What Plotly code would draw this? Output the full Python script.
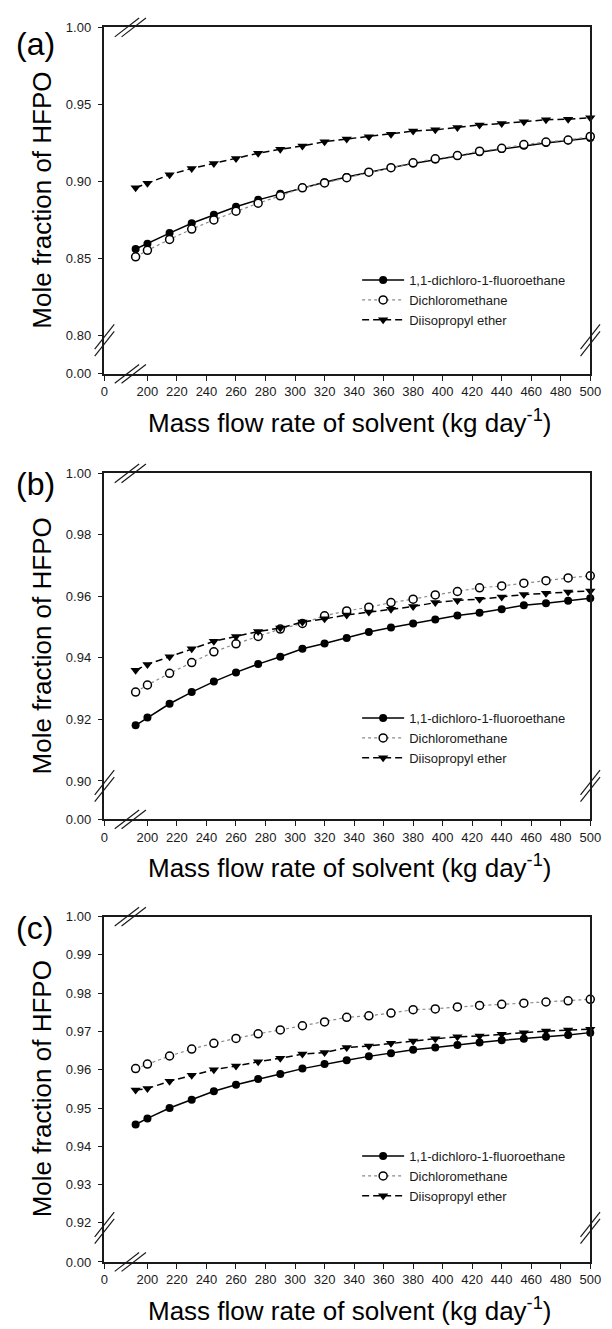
import plotly.graph_objects as go

W, H = 612, 1329

# ---------------- data ----------------
mass_flow = [192, 200, 215, 230, 245, 260, 275, 290, 305, 320, 335,
             350, 365, 380, 395, 410, 425, 440, 455, 470, 485, 500]

series_names = ["1,1-dichloro-1-fluoroethane", "Dichloromethane", "Diisopropyl ether"]

# panel (a)
a_dcfe = [0.8561, 0.8595, 0.8664, 0.8728, 0.8784, 0.8835, 0.8880, 0.8920, 0.8960, 0.8995, 0.9028,
          0.9060, 0.9088, 0.9117, 0.9143, 0.9166, 0.9190, 0.9210, 0.9232, 0.9250, 0.9266, 0.9282]
a_dcm = [0.8510, 0.8552, 0.8623, 0.8690, 0.8750, 0.8806, 0.8858, 0.8906, 0.8958, 0.8990, 0.9024,
         0.9060, 0.9089, 0.9121, 0.9147, 0.9168, 0.9196, 0.9215, 0.9239, 0.9256, 0.9269, 0.9292]
a_dipe = [0.8958, 0.8988, 0.9044, 0.9084, 0.9116, 0.9149, 0.9183, 0.9209, 0.9230, 0.9258, 0.9275,
          0.9290, 0.9307, 0.9327, 0.9335, 0.9350, 0.9367, 0.9376, 0.9387, 0.9400, 0.9404, 0.9414]

# panel (b)
b_dcfe = [0.9181, 0.9206, 0.9251, 0.9289, 0.9323, 0.9353, 0.9380, 0.9404, 0.9430, 0.9447, 0.9465,
          0.9484, 0.9499, 0.9512, 0.9525, 0.9538, 0.9547, 0.9558, 0.9571, 0.9578, 0.9586, 0.9594]
b_dcm = [0.9289, 0.9312, 0.9350, 0.9385, 0.9420, 0.9446, 0.9470, 0.9494, 0.9512, 0.9537, 0.9553,
         0.9565, 0.9580, 0.9591, 0.9605, 0.9616, 0.9628, 0.9634, 0.9643, 0.9651, 0.9660, 0.9667]
b_dipe = [0.9360, 0.9379, 0.9404, 0.9430, 0.9454, 0.9470, 0.9486, 0.9497, 0.9517, 0.9527, 0.9540,
          0.9549, 0.9558, 0.9567, 0.9580, 0.9587, 0.9591, 0.9598, 0.9606, 0.9610, 0.9614, 0.9618]

# panel (c)
c_dcfe = [0.9457, 0.9473, 0.9500, 0.9522, 0.9544, 0.9561, 0.9576, 0.9589, 0.9603, 0.9615, 0.9625,
          0.9635, 0.9643, 0.9652, 0.9658, 0.9665, 0.9671, 0.9677, 0.9681, 0.9686, 0.9691, 0.9697]
c_dcm = [0.9603, 0.9615, 0.9636, 0.9654, 0.9669, 0.9682, 0.9694, 0.9704, 0.9715, 0.9725, 0.9737,
         0.9741, 0.9748, 0.9757, 0.9759, 0.9764, 0.9768, 0.9771, 0.9774, 0.9777, 0.9780, 0.9784]
c_dipe = [0.9547, 0.9551, 0.9570, 0.9586, 0.9600, 0.9610, 0.9621, 0.9630, 0.9641, 0.9645, 0.9658,
          0.9662, 0.9669, 0.9675, 0.9681, 0.9686, 0.9688, 0.9693, 0.9697, 0.9701, 0.9704, 0.9706]

x_ticks = [200, 220, 240, 260, 280, 300, 320, 340, 360, 380, 400, 420, 440, 460, 480, 500]
x_axis_start = 170.9          # where the broken axis shows "0"
x_axis_end = 500

a_yticks = [0.80, 0.85, 0.90, 0.95, 1.00]
b_yticks = [0.90, 0.92, 0.94, 0.96, 0.98, 1.00]
c_yticks = [0.92, 0.93, 0.94, 0.95, 0.96, 0.97, 0.98, 0.99, 1.00]
a_ybottom, b_ybottom, c_ybottom = 0.775, 0.8875, 0.9098   # shown as "0.00" after break

panel_labels = ["(a)", "(b)", "(c)"]

# ---------------- layout geometry (pixels) ----------------
X_L, X_R = 103, 601
panel_px = [(20.7, 371.0), (471.7, 821.7), (920.0, 1269.3)]
label_cy = [37, 482, 932]
legend_top = [261, 704, 1147]

FONT = "Liberation Sans, Arial, sans-serif"
INK = "#1a1a1a"


def fx(px):
    return px / W


def fy(py):
    return 1 - py / H


panels = [
    (a_dcfe, a_dcm, a_dipe, a_yticks, a_ybottom),
    (b_dcfe, b_dcm, b_dipe, b_yticks, b_ybottom),
    (c_dcfe, c_dcm, c_dipe, c_yticks, c_ybottom),
]

fig = go.Figure()
shapes = []
annotations = []
layout_axes = {}

for i, (dcfe, dcm, dipe, yticks, ybot) in enumerate(panels):
    n = "" if i == 0 else str(i + 1)
    xa, ya = "x" + n, "y" + n
    leg = "legend" + n
    top, bot = panel_px[i]

    common = dict(xaxis=xa, yaxis=ya, legend=leg, mode="lines+markers", cliponaxis=False)
    fig.add_trace(go.Scatter(x=mass_flow, y=dcfe, name=series_names[0],
                             line=dict(color="black", width=1.5),
                             marker=dict(symbol="circle", size=8, color="black"), **common))
    fig.add_trace(go.Scatter(x=mass_flow, y=dcm, name=series_names[1],
                             line=dict(color="#8a8a8a", width=1.2, dash="dot"),
                             marker=dict(symbol="circle", size=8, color="white",
                                         line=dict(color="black", width=1.5)), **common))
    fig.add_trace(go.Scatter(x=mass_flow, y=dipe, name=series_names[2],
                             line=dict(color="black", width=1.5, dash="7px,4px"),
                             marker=dict(symbol="triangle-down", size=9, color="black"), **common))

    yvals = [ybot] + yticks
    ytext = ["0.00"] + ["%.2f" % v for v in yticks]
    xvals = [x_axis_start] + x_ticks
    xtext = ["0"] + [str(v) for v in x_ticks]

    layout_axes["xaxis" + n] = dict(
        domain=[fx(X_L), fx(X_R)], anchor=ya, range=[x_axis_start, x_axis_end],
        tickmode="array", tickvals=xvals, ticktext=xtext,
        showline=True, mirror=True, linecolor=INK, linewidth=1.5,
        ticks="outside", ticklen=5, tickwidth=1.2, tickcolor=INK,
        showgrid=False, zeroline=False,
        tickfont=dict(family=FONT, size=13, color=INK))
    layout_axes["yaxis" + n] = dict(
        domain=[fy(bot), fy(top)], anchor=xa, range=[ybot, 1.0],
        tickmode="array", tickvals=yvals, ticktext=ytext,
        showline=True, mirror=True, linecolor=INK, linewidth=1.5,
        ticks="outside", ticklen=5, tickwidth=1.2, tickcolor=INK,
        showgrid=False, zeroline=False, ticklabelstandoff=4,
        tickfont=dict(family=FONT, size=13, color=INK))

    layout_axes[leg] = dict(
        x=fx(362), y=fy(legend_top[i]), xanchor="left", yanchor="top",
        bgcolor="rgba(0,0,0,0)", font=dict(family=FONT, size=13, color=INK),
        itemwidth=42, tracegroupgap=0)

    # pixel position of the upper tick next to the y break
    def ypix(v, top=top, bot=bot, ybot=ybot):
        return bot - (v - ybot) / (1.0 - ybot) * (bot - top)

    brk_y = ypix(yticks[0]) + 5
    # break marks on left & right y axes
    for cx in (X_L, X_R):
        for off in (-3.5, 3.5):
            shapes.append(dict(type="line", xref="paper", yref="paper",
                               x0=fx(cx - 10), y0=fy(brk_y + 12.5 + off),
                               x1=fx(cx + 10), y1=fy(brk_y - 12.5 + off),
                               line=dict(color=INK, width=1.2)))
    # break marks on top & bottom x axes
    for cy in (top, bot):
        for off in (-3.5, 3.5):
            shapes.append(dict(type="line", xref="paper", yref="paper",
                               x0=fx(129.5 - 12.5 + off), y0=fy(cy + 9.5),
                               x1=fx(129.5 + 12.5 + off), y1=fy(cy - 9.5),
                               line=dict(color=INK, width=1.2)))

    annotations.append(dict(text=panel_labels[i], xref="paper", yref="paper",
                            x=fx(10), y=fy(label_cy[i]), xanchor="left", yanchor="middle",
                            showarrow=False, font=dict(family=FONT, size=32, color="black")))
    annotations.append(dict(text="Mole fraction of HFPO", xref="paper", yref="paper",
                            x=fx(39), y=fy((top + bot) / 2), xanchor="center", yanchor="middle",
                            textangle=-90, showarrow=False,
                            font=dict(family=FONT, size=26, color="black")))
    annotations.append(dict(text="Mass flow rate of solvent (kg day<sup>-1</sup>)",
                            xref="paper", yref="paper",
                            x=fx(354), y=fy(bot + 48), xanchor="center", yanchor="middle",
                            showarrow=False, font=dict(family=FONT, size=26, color="black")))

fig.update_layout(
    width=W, height=H, margin=dict(l=0, r=0, t=0, b=0),
    paper_bgcolor="white", plot_bgcolor="white",
    font=dict(family=FONT, color=INK),
    shapes=shapes, annotations=annotations, showlegend=True,
    **layout_axes)

fig.write_html(
    "out.html",
    config={"displayModeBar": False},
    post_script=(
        "document.documentElement.style.margin='0';"
        "document.documentElement.style.overflow='hidden';"
        "document.body.style.margin='0';document.body.style.padding='0';"
        "document.body.style.overflow='hidden';"
        "var gd=document.getElementById('{plot_id}');"
        "gd.style.position='fixed';gd.style.left='0px';gd.style.top='0px';"
    ))
